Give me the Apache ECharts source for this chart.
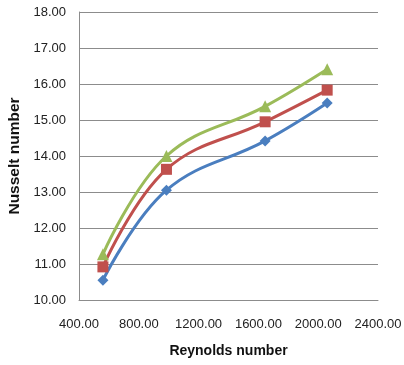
<!DOCTYPE html>
<html>
<head>
<meta charset="utf-8">
<script src="https://cdn.jsdelivr.net/npm/echarts@6/dist/echarts.min.js"></script>
<style>
  html, body { margin: 0; padding: 0; background: #fff; }
  #chart { width: 404px; height: 365px; }
</style>
</head>
<body>
<div id="chart"></div>
<script>
// Reynolds number at each measured point
const reynolds = [560, 985, 1645, 2060];
// Nusselt number for the three cases
const seriesBlue = [10.55, 13.05, 14.42, 15.47];
const seriesRed = [10.92, 13.63, 14.95, 15.83];
const seriesGreen = [11.27, 14.0, 15.38, 16.41];

const pairs = (xs, ys) => xs.map((x, i) => [x, ys[i]]);
const fontFamily = '"Liberation Sans", "DejaVu Sans", sans-serif';

const chart = echarts.init(document.getElementById('chart'));
const mk = (data, color, symbol, size) => ({
  type: 'line',
  data: data,
  smooth: 0.4,
  symbol: symbol,
  symbolSize: size,
  lineStyle: { color: color, width: 3 },
  itemStyle: { color: color },
  z: 3
});

chart.setOption({
  animation: false,
  grid: { left: 79, right: 26, top: 12, bottom: 65, containLabel: false, outerBoundsMode: 'none' },
  xAxis: {
    type: 'value',
    min: 400, max: 2400, interval: 400,
    name: 'Reynolds number',
    nameLocation: 'middle',
    nameGap: 44,
    nameTextStyle: { fontFamily, fontSize: 14, fontWeight: 'bold', color: '#111' },
    axisLine: { lineStyle: { color: '#8c8c8c' } },
    axisTick: { show: false },
    splitLine: { show: false },
    axisLabel: { fontFamily, fontSize: 13, color: '#222', margin: 18,
      formatter: v => v.toFixed(2) }
  },
  yAxis: {
    type: 'value',
    min: 10, max: 18, interval: 1,
    name: 'Nusselt number',
    nameLocation: 'middle',
    nameGap: 51,
    nameTextStyle: { fontFamily, fontSize: 15.5, fontWeight: 'bold', color: '#111' },
    axisLine: { show: true, lineStyle: { color: '#8c8c8c' } },
    axisTick: { show: false },
    splitLine: { lineStyle: { color: '#8c8c8c', width: 1 } },
    axisLabel: { fontFamily, fontSize: 13, color: '#222', margin: 13,
      formatter: v => v.toFixed(2) }
  },
  series: [
    mk(pairs(reynolds, seriesBlue), '#4a7ebf', 'diamond', 11),
    mk(pairs(reynolds, seriesRed), '#c0504d', 'rect', 11),
    mk(pairs(reynolds, seriesGreen), '#9bbb59', 'triangle', 12)
  ]
});
</script>
</body>
</html>
